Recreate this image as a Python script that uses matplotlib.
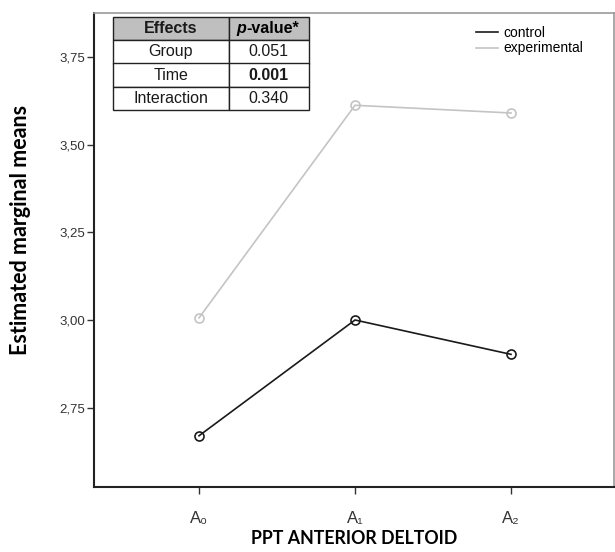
import matplotlib; matplotlib.use('Agg')
import matplotlib.pyplot as plt

# estimated marginal means
times = ['A\u2080', 'A\u2081', 'A\u2082']
control = [2.670, 3.000, 2.902]
experimental = [3.006, 3.612, 3.590]
yticks = [2.75, 3.00, 3.25, 3.50, 3.75]
ytick_labels = ['2,75', '3,00', '3,25', '3,50', '3,75']

effects = ['Group', 'Time', 'Interaction']
pvalues = ['0.051', '0.001', '0.340']

plt.rcParams['font.family'] = ['Liberation Sans', 'DejaVu Sans']

fig = plt.figure(figsize=(6.15, 5.52), dpi=100)
ax = fig.add_axes([94/615, 1-487/552, 520/615, 474/552])

x = range(len(times))
ax.plot(x, control, color='#1a1a1a', lw=1.2, marker='o', ms=6.5,
        mfc='none', mec='#1a1a1a', mew=1.2, label='control')
ax.plot(x, experimental, color='#c4c4c4', lw=1.2, marker='o', ms=6.5,
        mfc='none', mec='#c4c4c4', mew=1.2, label='experimental')

ax.set_xlim(-0.673, 2.66)
ax.set_ylim(2.524, 3.875)
ax.set_xticks(list(x))
ax.set_xticklabels(times, fontsize=12)
ax.set_yticks(yticks)
ax.set_yticklabels(ytick_labels, fontsize=9.5, color='#333333')
ax.tick_params(axis='y', length=5, width=1, pad=1.5, colors='#333333')
ax.tick_params(axis='x', length=5, width=1, pad=12, colors='#333333')

for s in ['left', 'bottom']:
    ax.spines[s].set_color('#222222'); ax.spines[s].set_linewidth(1.5)
for s in ['top', 'right']:
    ax.spines[s].set_color('#999999'); ax.spines[s].set_linewidth(1.2)

ax.set_ylabel('Estimated marginal means', fontsize=15.5, fontweight='bold',
              family=['Lato', 'DejaVu Sans'], va='center')
ax.yaxis.set_label_coords(-0.142, 0.542)
ax.set_xlabel('PPT ANTERIOR DELTOID', fontsize=12.8, fontweight='bold',
              family=['Lato', 'DejaVu Sans'], labelpad=3)

leg = ax.legend(loc='upper right', bbox_to_anchor=(0.957, 0.99), frameon=False,
                fontsize=10, handlelength=1.6, handletextpad=0.4,
                labelspacing=0.1, borderaxespad=0.2)
for h in leg.get_lines():
    h.set_marker('')

# table of effects inset
cells = [[e, p] for e, p in zip(effects, pvalues)]
tb = ax.table(cellText=cells, colLabels=['Effects', ''],
              cellLoc='center', colWidths=[0.59, 0.41],
              bbox=[(113-94)/520, (487-110)/474, (309-113)/520, (110-17)/474])
tb.auto_set_font_size(False)
for (r, c), cell in tb.get_celld().items():
    cell.set_edgecolor('#222222')
    cell.set_linewidth(1.0)
    cell.get_text().set_fontsize(11.5)
    cell.get_text().set_color('#1a1a1a')
    if r == 0:
        cell.set_facecolor('#bfbfbf')
        cell.get_text().set_fontweight('bold')
    if r == 2 and c == 1:
        cell.get_text().set_fontweight('bold')

# header "p-value*" with italic p
fig.canvas.draw()
hdr = tb[0, 1]
bb = hdr.get_window_extent(fig.canvas.get_renderer()).transformed(ax.transAxes.inverted())
cx, cy = bb.x0 + bb.width/2, bb.y0 + bb.height/2
ax.annotate('p', xy=(cx, cy), xycoords='axes fraction', ha='right', va='center',
            fontsize=11.5, fontweight='bold', style='italic',
            xytext=(-16, 0), textcoords='offset points')
ax.annotate('-value*', xy=(cx, cy), xycoords='axes fraction', ha='left', va='center',
            fontsize=11.5, fontweight='bold', xytext=(-16, 0), textcoords='offset points')

plt.savefig('out.png', dpi=100)
plt.close()
